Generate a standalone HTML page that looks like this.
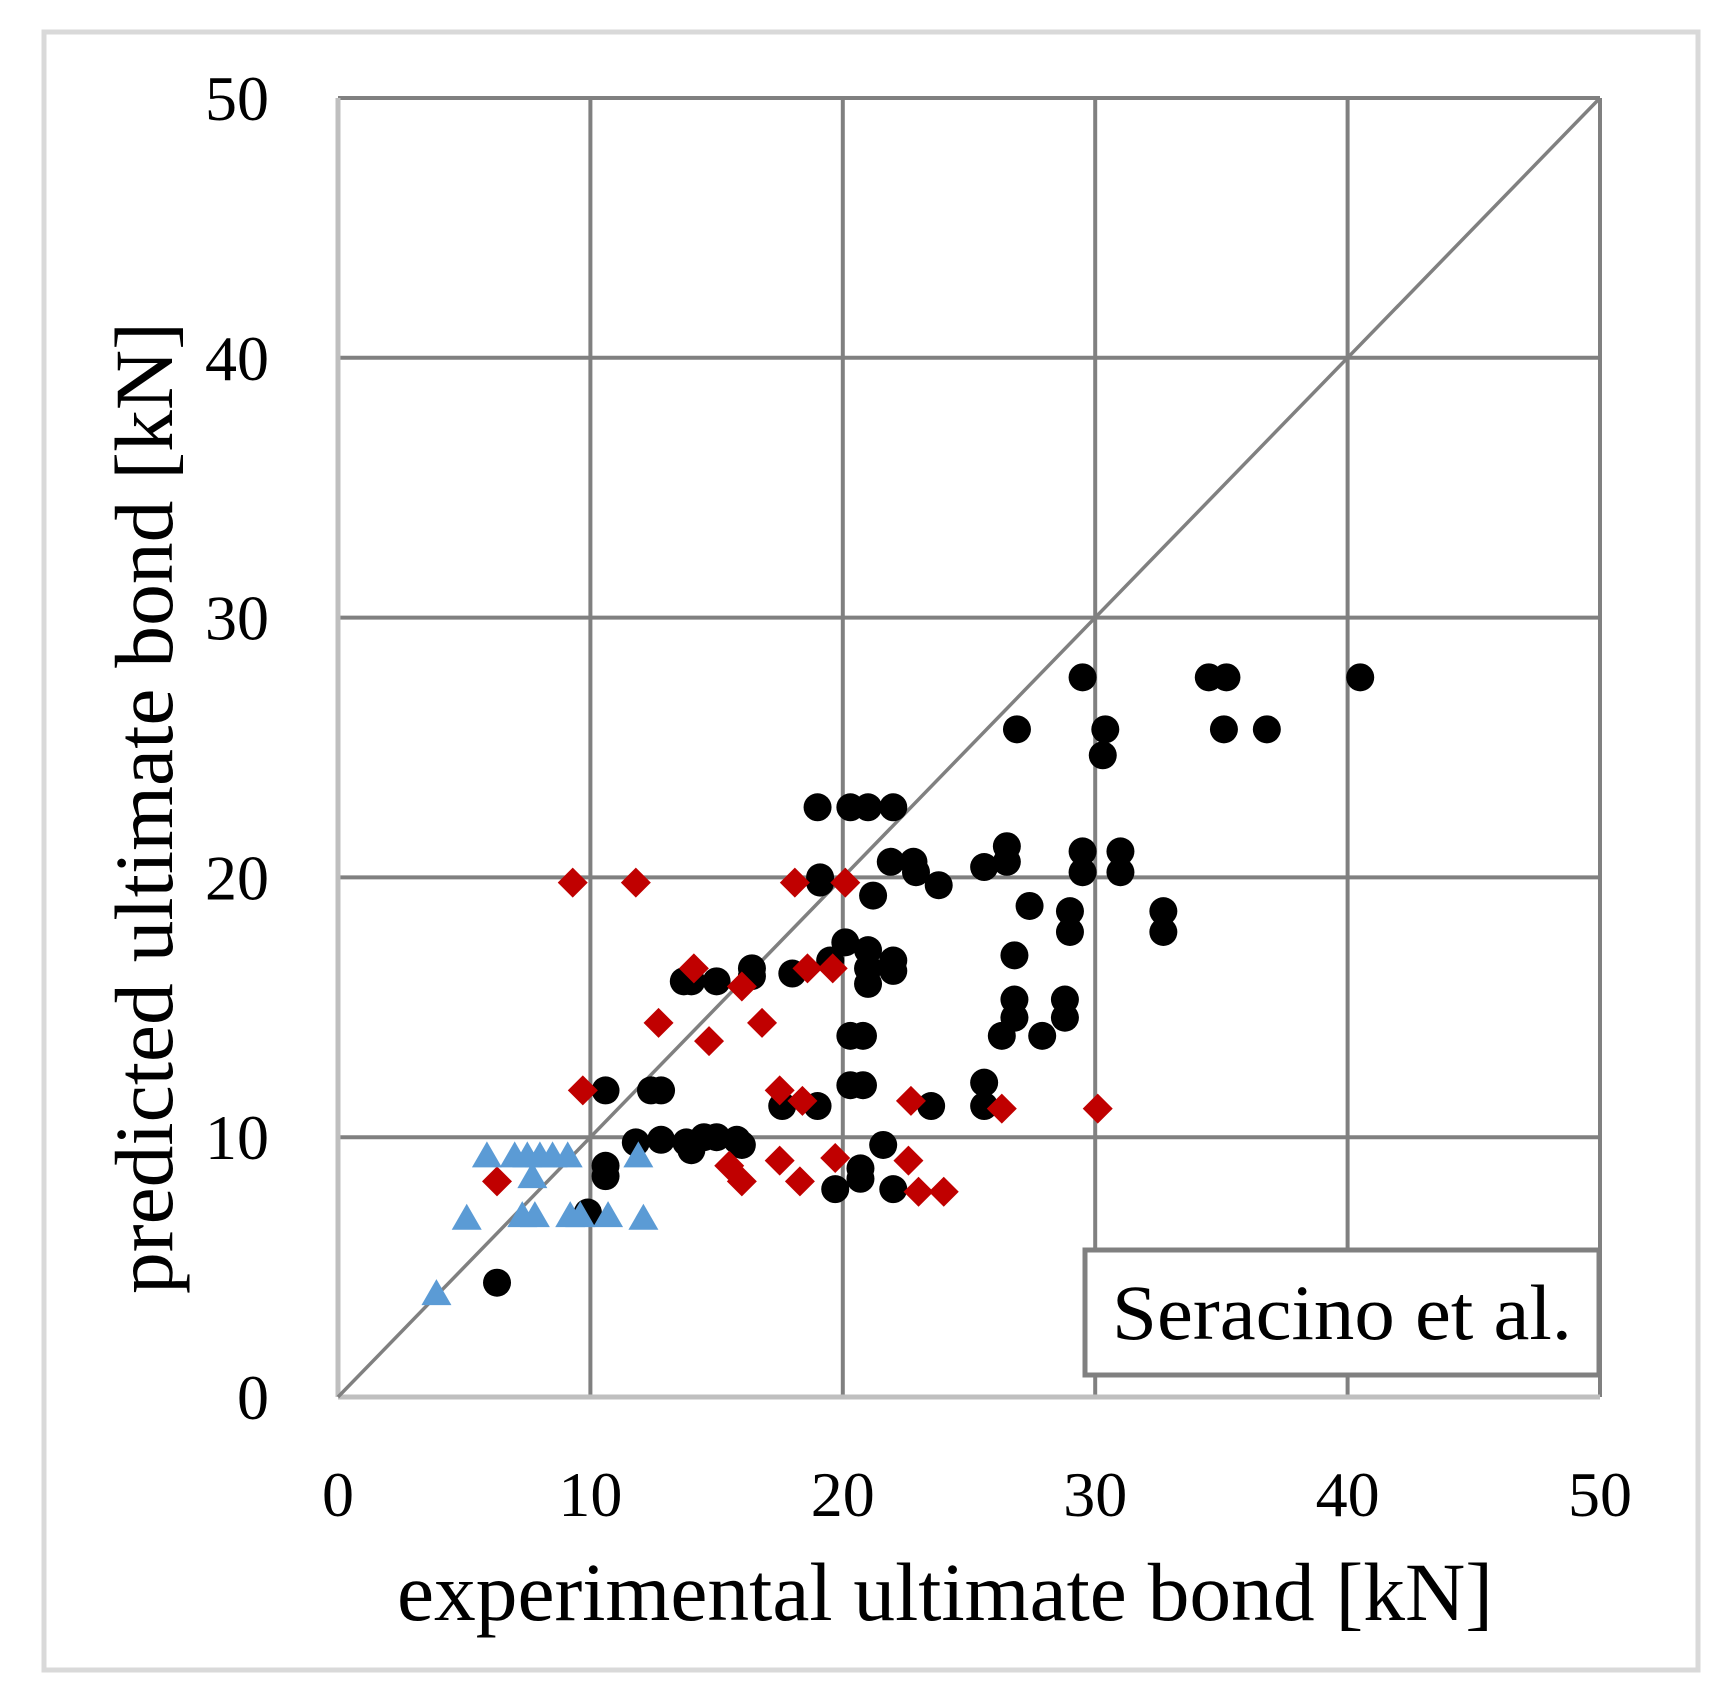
<!DOCTYPE html>
<html><head><meta charset="utf-8"><style>
html,body{margin:0;padding:0;background:#fff;width:1724px;height:1686px;overflow:hidden}
svg{display:block}
text{font-family:"Liberation Serif",serif;fill:#000}
</style></head><body>
<svg id="s" width="1724" height="1686" viewBox="0 0 1724 1686" xmlns="http://www.w3.org/2000/svg">
<rect x="44" y="32" width="1654" height="1638" fill="#fff" stroke="#d9d9d9" stroke-width="5"/>
<g id="grid" stroke="#808080" stroke-width="4" fill="none"></g>
<g id="pts"></g>
<rect x="1085" y="1250" width="514" height="125" fill="#fff" stroke="#808080" stroke-width="5"/>
<text x="1342" y="1339" font-size="78" text-anchor="middle" textLength="460" lengthAdjust="spacingAndGlyphs">Seracino et al.</text>
<text x="945" y="1620" font-size="83" text-anchor="middle" textLength="1096" lengthAdjust="spacingAndGlyphs">experimental ultimate bond [kN]</text>
<text transform="translate(172,808) rotate(-90)" font-size="83" text-anchor="middle" textLength="972" lengthAdjust="spacingAndGlyphs">predicted ultimate bond [kN]</text>
<g id="ticks" font-size="64"></g>
</svg>
<script>
var NS="http://www.w3.org/2000/svg";
function X(v){return 338+v*25.24}
function Y(v){return 1397-v*25.98}
function el(t,a,p){var e=document.createElementNS(NS,t);for(var k in a)e.setAttribute(k,a[k]);p.appendChild(e);return e}
var g=document.getElementById('grid'),tk=document.getElementById('ticks'),P=document.getElementById('pts');
for(var i=1;i<=5;i++){
 el('line',{x1:X(i*10),y1:Y(0),x2:X(i*10),y2:Y(50)},g);
 el('line',{x1:X(0),y1:Y(i*10),x2:X(50),y2:Y(i*10)},g);
}
el('line',{x1:X(0),y1:Y(0),x2:X(0),y2:Y(50),stroke:'#bfbfbf','stroke-width':5},g);
el('line',{x1:X(0),y1:Y(0),x2:X(50),y2:Y(0),stroke:'#bfbfbf','stroke-width':5},g);
el('line',{x1:X(0),y1:Y(0),x2:X(50),y2:Y(50),'stroke-width':3.5},g);
for(var i=0;i<=5;i++){
 var t=el('text',{x:269,y:Y(i*10)+22,'text-anchor':'end'},tk);t.textContent=i*10;
 t=el('text',{x:X(i*10),y:1516,'text-anchor':'middle'},tk);t.textContent=i*10;
}
var blk=[[29.5,27.7],[34.5,27.7],[35.2,27.7],[40.5,27.7],[26.9,25.7],[30.4,25.7],[35.1,25.7],[36.8,25.7],[30.3,24.7],[19,22.7],[20.3,22.7],[21,22.7],[22,22.7],[26.5,21.2],[26.5,20.6],[29.5,21],[29.5,20.2],[31,21],[31,20.2],[22.8,20.6],[22.9,20.2],[21.9,20.6],[25.6,20.4],[19.1,20],[19.1,19.8],[21.2,19.3],[23.8,19.7],[27.4,18.9],[29,18.7],[29,17.9],[32.7,18.7],[32.7,17.9],[20.1,17.5],[21,17.2],[19.5,16.8],[21,16.5],[22,16.8],[22,16.4],[21,15.9],[16.4,16.5],[16.4,16.2],[18,16.3],[13.7,16],[14,16],[15,16],[26.8,17],[26.8,15.3],[26.8,14.6],[28.8,15.3],[28.8,14.6],[26.3,13.9],[27.9,13.9],[20.3,13.9],[20.8,13.9],[25.6,12.1],[25.6,11.2],[20.3,12],[20.8,12],[23.5,11.2],[19,11.2],[17.6,11.2],[10.6,11.8],[12.4,11.8],[12.8,11.8],[11.8,9.8],[12.8,9.9],[13.8,9.8],[14,9.5],[14.5,10],[15,10],[15.8,9.9],[16,9.7],[21.6,9.7],[10.6,8.9],[10.6,8.5],[20.7,8.8],[20.7,8.4],[19.7,8],[22,8],[9.9,7.1],[6.3,4.4]];
var red=[[9.3,19.8],[11.8,19.8],[18.1,19.8],[20.1,19.8],[14.1,16.5],[16,15.8],[18.6,16.5],[19.6,16.5],[12.7,14.4],[16.8,14.4],[14.7,13.7],[9.7,11.8],[17.5,11.8],[18.4,11.4],[22.7,11.4],[26.3,11.1],[30.1,11.1],[15.5,8.9],[16,8.3],[17.5,9.1],[18.3,8.3],[19.7,9.2],[22.6,9.1],[23,7.9],[24,7.9],[6.3,8.3]];
var blu=[[3.9,4],[5.1,6.9],[5.9,9.3],[7,9.3],[7.5,9.3],[8,9.3],[8.5,9.3],[9.1,9.3],[7.7,8.5],[7.3,7],[7.8,7],[9.2,7],[9.6,7],[10.7,7],[11.9,9.3],[12.1,6.9]];
blk.forEach(function(p){el('circle',{cx:X(p[0]),cy:Y(p[1]),r:14,fill:'#000'},P)});
red.forEach(function(p){var x=X(p[0]),y=Y(p[1]),d=15;el('polygon',{points:[x,y-d,x+d,y,x,y+d,x-d,y].join(' '),fill:'#c00000'},P)});
blu.forEach(function(p){var x=X(p[0]),y=Y(p[1]);el('polygon',{points:[x,y-14,x+15,y+12,x-15,y+12].join(' '),fill:'#5b9bd5'},P)});
</script>
</body></html>
